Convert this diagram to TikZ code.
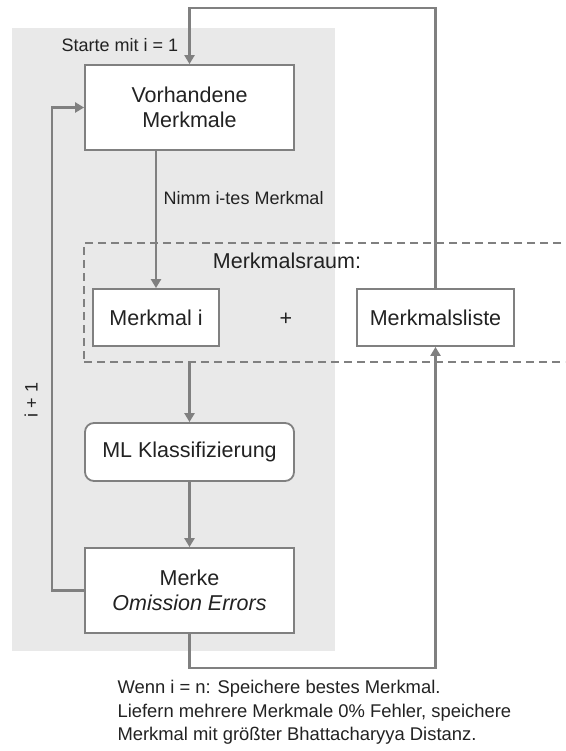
\documentclass[tikz,border=0pt]{standalone}
\usepackage{fontspec}
\setmainfont{Liberation Sans}
\usetikzlibrary{arrows.meta}

\definecolor{linie}{HTML}{808080}
\definecolor{schrift}{HTML}{222222}
\definecolor{hinter}{HTML}{E9E9E9}

\tikzset{
  kasten/.style={draw=linie, line width=1.8pt, fill=white, inner sep=0pt, align=center,
    font=\fontsize{21.5}{25}\selectfont},
  klein/.style={font=\fontsize{18}{21}\selectfont},
}

\begin{document}
\begin{tikzpicture}[x=1pt, y=-1pt, >={Triangle[length=9pt,width=10pt]}, text=schrift]

    \clip (0,0) rectangle (565,751);
    \useasboundingbox (0,0) rectangle (565,751);

    % grauer Hintergrund der Schleife
    \fill[hinter] (12,28) rectangle (335,651);

    \node[draw=linie, line width=1.8pt, dashed, dash pattern=on 8pt off 5pt, minimum width=491pt, minimum height=119pt, inner sep=0pt] (raum) at (329.5,302.5) {};
    \node[font=\fontsize{21.5}{25}\selectfont] (raumtext) at (287,261) {Merkmalsraum:};

    \node[kasten, minimum width=209pt, minimum height=85pt] (vorh) at (189.5,107.5) {Vorhandene\\Merkmale};
    \node[kasten, minimum width=126pt, minimum height=57pt] (mi) at (156,317.5) {Merkmal i};
    \node[font=\fontsize{21.5}{25}\selectfont] (plus) at (286,319) {+};
    \node[kasten, minimum width=157pt, minimum height=57pt] (liste) at (435.5,317.5) {Merkmalsliste};
    \node[kasten, rounded corners=9pt, minimum width=209pt, minimum height=58pt] (ml) at (189.5,452) {ML Klassifizierung};
    \node[kasten, minimum width=209pt, minimum height=85pt] (merke) at (189.5,590.5) {Merke\\\itshape Omission Errors};

    \coordinate (oben) at (0,8);
    \coordinate (links) at (52,0);
    \coordinate (unten) at (0,668);

    \node[klein, anchor=west] (start) at (58,45) {Starte mit i = 1};
    \node[klein, anchor=west] (nimm) at (160,198) {Nimm i-tes Merkmal};
    \node[klein, rotate=90] (inc) at (31,400) {i + 1};

    % Pfeile
    \begin{scope}[draw=linie, line width=2.4pt]
    \draw[->] (vorh.south -| mi.north) -- (mi.north);
    \draw[->] (raum.south -| ml.north) -- (ml.north);
    \draw[->] (ml.south) -- (merke.north);
    \draw[->] (merke.west) -- (merke.west -| links) -- (vorh.west -| links) -- (vorh.west);
    \draw[->] (merke.south) -- (merke.south |- unten) -| (liste.south);
    \draw[->] (liste.north) -- (liste.north |- oben) -| (vorh.north);
    \end{scope}

    \node[anchor=north west, align=left, font=\fontsize{18.4}{23.5}\selectfont] (ende) at (114,677)
      {Wenn i = n: Speichere bestes Merkmal.\\
       Liefern mehrere Merkmale 0\% Fehler, speichere\\
       Merkmal mit größter Bhattacharyya Distanz.};

\end{tikzpicture}
\end{document}
